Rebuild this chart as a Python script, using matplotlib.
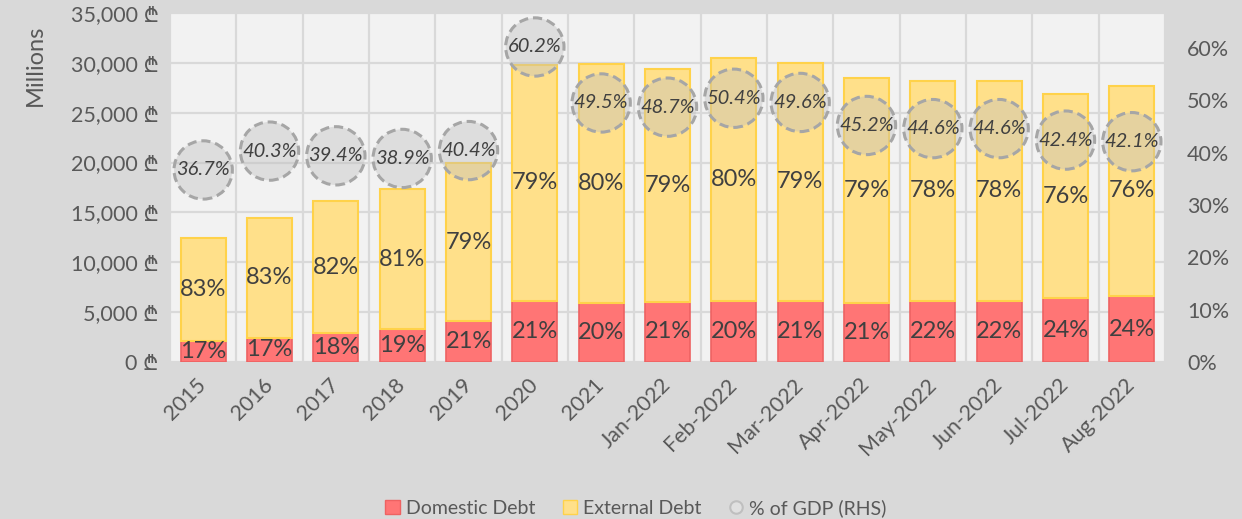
import matplotlib
matplotlib.use("Agg")
import matplotlib.pyplot as plt
from matplotlib.patches import Patch
from matplotlib.lines import Line2D
from matplotlib.ticker import FuncFormatter, MultipleLocator
from matplotlib import font_manager
import numpy as np

categories = ['2015', '2016', '2017', '2018', '2019', '2020', '2021',
              'Jan-2022', 'Feb-2022', 'Mar-2022', 'Apr-2022', 'May-2022',
              'Jun-2022', 'Jul-2022', 'Aug-2022']
domestic = [2100, 2450, 2900, 3300, 4100, 6150, 5900, 6050, 6100, 6150,
            5900, 6150, 6150, 6400, 6600]
external = [10370, 12020, 13250, 14050, 15850, 23640, 23990, 23340, 24360,
            23810, 22620, 22030, 22030, 20450, 21110]
gdp_pct = [36.7, 40.3, 39.4, 38.9, 40.4, 60.2, 49.5, 48.7, 50.4, 49.6,
           45.2, 44.6, 44.6, 42.4, 42.1]

# find an installed family with the Lari sign
lari_family = None
try:
    from fontTools.ttLib import TTFont
    for f in sorted(font_manager.findSystemFonts()):
        try:
            tt = TTFont(f, fontNumber=0, lazy=True)
            cmap = tt.getBestCmap()
            if cmap and 0x20BE in cmap:
                lari_family = font_manager.FontProperties(fname=f).get_name()
                tt.close()
                break
            tt.close()
        except Exception:
            continue
except Exception:
    pass

FONT = ['Lato', 'DejaVu Sans']
if lari_family:
    FONT = ['Lato', lari_family, 'DejaVu Sans']
plt.rcParams['font.family'] = FONT
TXT = '#595959'
LBL = '#404040'

fig = plt.figure(figsize=(12.42, 5.19), dpi=100)
fig.patch.set_facecolor('#d9d9d9')
ax = fig.add_axes([0.1369, 0.3025, 0.8011, 0.6725])
ax.set_facecolor('#f2f2f2')

x = np.arange(len(categories))
dom = np.array(domestic, dtype=float)
ext = np.array(external, dtype=float)
tot = dom + ext
w = 0.68
ax.bar(x, dom, w, color='#ff7575', edgecolor='#ee6262', linewidth=1.2, zorder=3)
ax.bar(x, ext, w, bottom=dom, color='#ffe08a', edgecolor='#ffd24a', linewidth=1.5, zorder=3)

for i in range(len(x)):
    dp = int(round(dom[i] / tot[i] * 100))
    ep = 100 - dp
    ax.text(x[i], dom[i] / 2, f'{dp}%', ha='center', va='center',
            fontsize=17, color=LBL, zorder=5)
    ax.text(x[i], dom[i] + ext[i] / 2, f'{ep}%', ha='center', va='center',
            fontsize=17, color=LBL, zorder=5)

ax.set_xlim(-0.5, len(x) - 0.5)
ax.set_ylim(0, 35000)
ax.yaxis.set_major_locator(MultipleLocator(5000))
ax.yaxis.set_major_formatter(FuncFormatter(lambda v, p: f'{int(v):,} \u20be'))
ax.set_xticks(x)
ax.set_xticklabels(categories, rotation=45, ha='right', va='center',
                   rotation_mode='anchor', fontsize=15.5, color=TXT)
ax.tick_params(axis='x', length=0, pad=14)
ax.tick_params(axis='y', length=0, pad=8, labelsize=15.5, labelcolor=TXT)
ax.set_xticks(np.arange(len(x) + 1) - 0.5, minor=True)
ax.grid(True, which='minor', axis='x', color='#d9d9d9', linewidth=1.6, zorder=0)
ax.grid(True, which='major', axis='y', color='#d9d9d9', linewidth=1.6, zorder=0)
ax.grid(False, which='major', axis='x')
ax.tick_params(axis='x', which='minor', length=0)
for s in ax.spines.values():
    s.set_visible(False)
ax.set_axisbelow(True)
fig.text(35 / 1242, 1 - 65 / 519, 'Millions', rotation=90, ha='center',
         va='center', fontsize=17, color=TXT)

ax2 = ax.twinx()
ax2.patch.set_visible(False)
ax2.set_ylim(0, 66.7)
ax2.set_yticks(np.arange(0, 61, 10))
ax2.yaxis.set_major_formatter(FuncFormatter(lambda v, p: f'{int(v)}%'))
ax2.tick_params(axis='y', length=0, pad=16, labelsize=15.5, labelcolor=TXT)
for s in ax2.spines.values():
    s.set_visible(False)

ax2.scatter(x, gdp_pct, s=42 ** 2, marker='o',
            facecolors=[(0.75, 0.75, 0.75, 0.4)], edgecolors='#a6a6a6',
            linewidths=2.2, linestyles=(0, (3.0, 1.6)), zorder=4, clip_on=False)
for xi, yi in zip(x, gdp_pct):
    ax2.text(xi, yi, f'{yi:.1f}%', ha='center', va='center', fontsize=14.5,
             style='italic', color=LBL, zorder=6)

handles = [Patch(facecolor='#ff7575', edgecolor='#ee6262', label='Domestic Debt'),
           Patch(facecolor='#ffe08a', edgecolor='#ffd24a', label='External Debt'),
           Line2D([], [], linestyle='none', marker='o', markersize=9,
                  markerfacecolor='#e0e0e0', markeredgecolor='#bfbfbf',
                  markeredgewidth=1.5, label='% of GDP (RHS)')]
fig.legend(handles=handles, loc='lower center', bbox_to_anchor=(0.512, -0.03),
           ncol=3, frameon=False, fontsize=14, labelcolor=TXT,
           handlelength=0.75, handleheight=0.75, handletextpad=0.3,
           columnspacing=1.4)

fig.savefig('out.png', dpi=100, facecolor=fig.get_facecolor())
